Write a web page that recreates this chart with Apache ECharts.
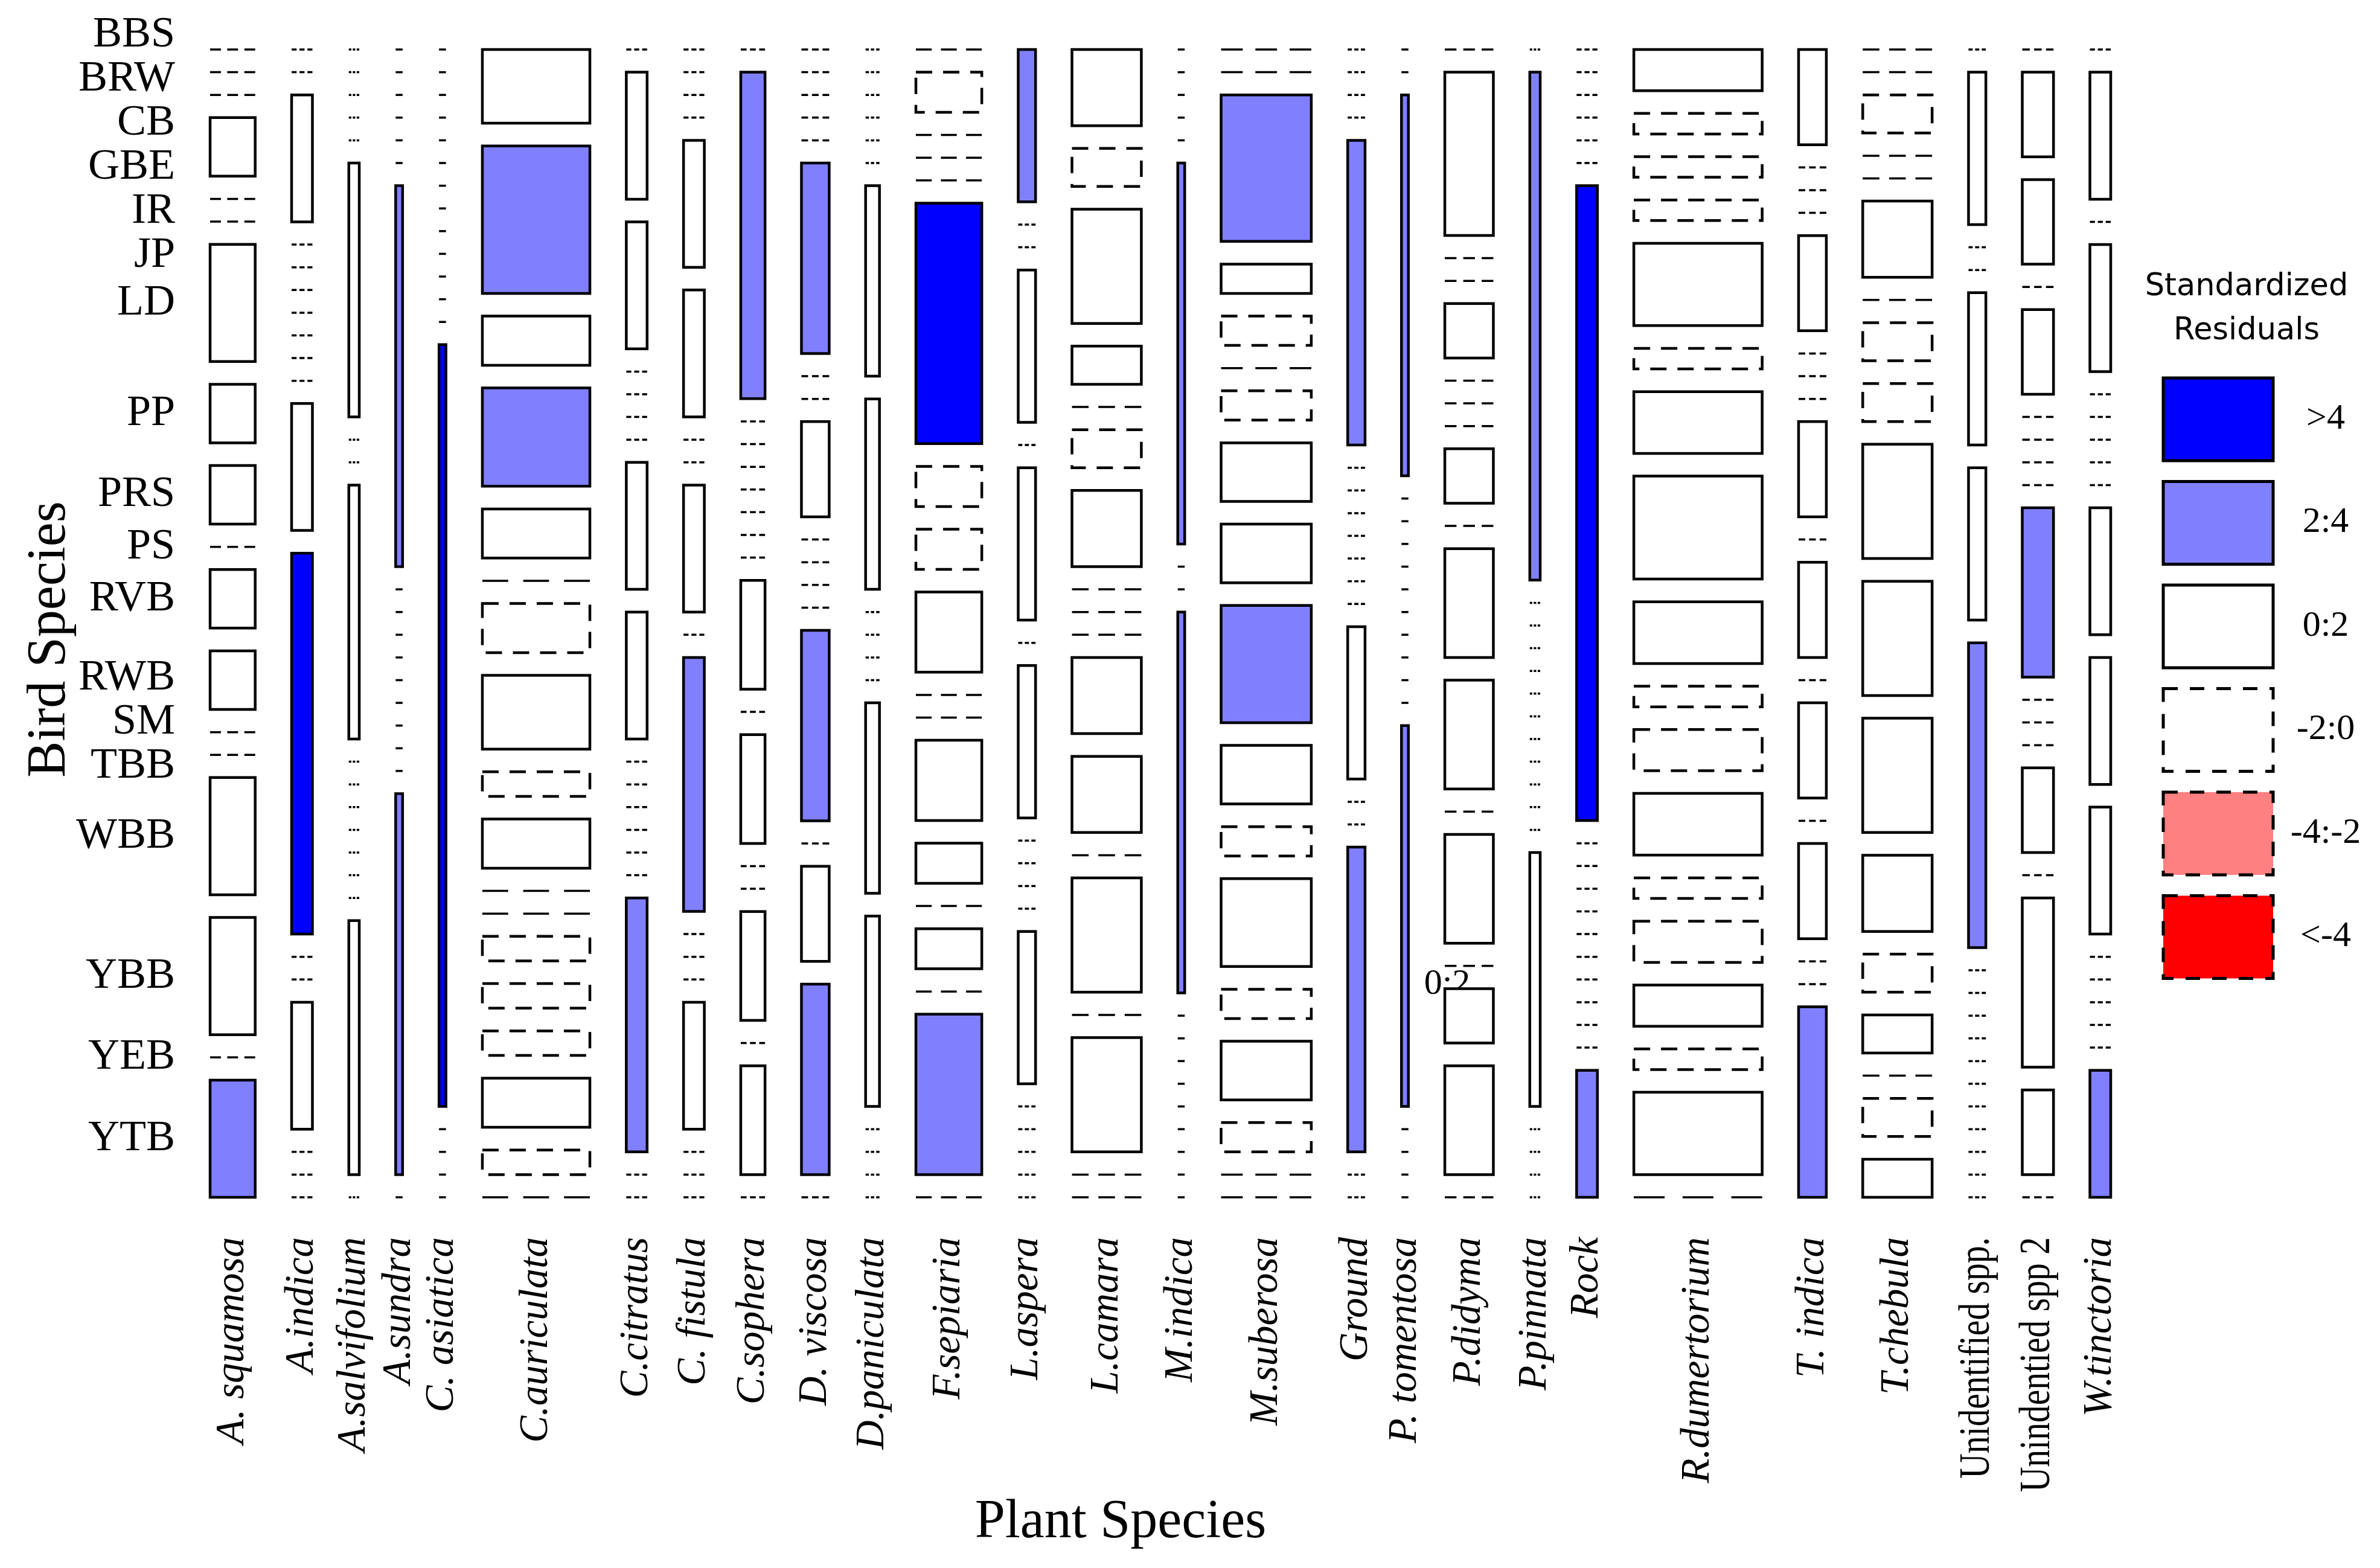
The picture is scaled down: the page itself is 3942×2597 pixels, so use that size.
<!DOCTYPE html>
<html><head><meta charset="utf-8">
<script src="https://cdn.jsdelivr.net/npm/echarts@6/dist/echarts.min.js"></script>
<style>html,body{margin:0;padding:0;background:#fff}#c{width:3942px;height:2597px}</style>
</head><body><div id="c"></div>
<script>
// ---- data ----
const birdSpecies = ['BBS','BRW','CB','GBE','IR','JP','LD','PP','PRS','PS','RVB','RWB','SM','TBB','WBB','YBB','YEB','YTB'];
const plantSpecies = ['A. squamosa','A.indica','A.salvifolium','A.sundra','C. asiatica','C.auriculata','C.citratus','C. fistula','C.sophera','D. viscosa','D.paniculata','F.sepiaria','L.aspera','L.camara','M.indica','M.suberosa','Ground','P. tomentosa','P.didyma','P.pinnata','Rock','R.dumertorium','T. indica','T.chebula','Unidentified spp.','Unindentied spp 2','W.tinctoria'];
const uprightPlants = ['Unidentified spp.','Unindentied spp 2'];
// counts per plant, in birdSpecies order
const aSquamosa    = [0,0,0,1,0,0,2,1,1,0,1,1,0,0,2,2,0,2];
const aIndica      = [0,0,1,0,0,0,0,0,0,0,1,3,0,0,1,0,0,0];
const aSalvifolium = [0,0,0,0,0,1,0,0,1,0,0,0,0,0,0,0,1,0];
const aSundra      = [0,0,0,0,0,0,1,0,0,0,0,0,0,0,0,0,1,0];
const cAsiatica    = [0,0,0,0,0,0,0,0,0,0,0,0,0,2,0,0,0,0];
const cAuriculata  = [3,6,2,4,2,0,2,3,1,2,0,0,1,1,1,2,1,0];
const cCitratus    = [0,1,1,0,0,0,0,1,1,0,0,0,0,0,0,2,0,0];
const cFistula     = [0,0,0,0,1,1,0,0,1,0,2,0,0,0,1,0,0,0];
const cSophera     = [0,3,0,0,0,0,0,0,0,1,0,1,0,0,1,0,1,0];
const dViscosa     = [0,0,0,0,0,2,0,0,1,0,0,0,0,2,0,1,2,0];
const dPaniculata  = [0,0,0,0,0,0,1,1,0,0,0,0,1,1,0,0,0,0];
const fSepiaria    = [0,1,0,0,0,6,1,1,2,0,0,2,1,0,1,0,4,0];
const lAspera      = [1,0,0,1,0,1,0,1,0,0,0,0,1,0,0,0,0,0];
const lCamara      = [2,1,3,1,0,1,2,0,0,0,2,2,0,3,0,3,0,0];
const mIndica      = [0,0,0,0,0,1,0,0,1,0,0,0,0,0,0,0,0,0];
const mSuberosa    = [0,0,5,1,1,0,1,2,2,4,2,1,3,1,2,1,0,0];
const ground       = [0,0,0,0,2,0,0,0,0,0,0,0,1,0,0,2,0,0];
const pTomentosa   = [0,0,1,0,0,0,0,0,0,0,0,0,0,1,0,0,0,0];
const pDidyma      = [0,3,0,0,1,0,0,0,1,0,2,2,0,2,0,1,2,0];
const pPinnata     = [0,2,0,0,0,0,0,0,0,0,0,0,0,1,0,0,0,0];
const rock         = [0,0,0,0,0,0,5,0,0,0,0,0,0,0,0,0,0,1];
const rDumertorium = [2,1,1,1,4,1,3,5,3,1,2,3,1,2,2,1,4,0];
const tIndica      = [1,0,0,0,1,0,0,0,1,0,1,0,1,0,1,0,0,2];
const tChebula     = [0,0,1,0,0,2,0,1,1,3,3,3,2,1,1,0,1,1];
const unidentSpp   = [0,1,0,0,1,1,2,0,0,0,0,0,0,0,0,0,0,0];
const unidentSpp2  = [0,1,1,0,1,0,0,0,0,2,0,0,0,1,0,2,1,0];
const wTinctoria   = [0,1,0,1,0,0,0,0,0,1,1,1,0,0,0,0,0,1];
const columns = [aSquamosa,aIndica,aSalvifolium,aSundra,cAsiatica,cAuriculata,cCitratus,cFistula,cSophera,dViscosa,dPaniculata,fSepiaria,lAspera,lCamara,mIndica,mSuberosa,ground,pTomentosa,pDidyma,pPinnata,rock,rDumertorium,tIndica,tChebula,unidentSpp,unidentSpp2,wTinctoria];
const legendLabels = ['>4','2:4','0:2','-2:0','-4:-2','<-4'];
const legendColors = ['#0000FF','#8080FF','#FFFFFF','#FFFFFF','#FF8080','#FF0000'];

// ---- mosaic layout (data units) ----
const gapX = 10.5, gapY = 0.0298;
const colTotals = columns.map(c => c.reduce((a,b)=>a+b,0));
const N = colTotals.reduce((a,b)=>a+b,0);
const rowTotals = birdSpecies.map((_,i)=>columns.reduce((a,c)=>a+c[i],0));
const cellData = [];
const colCenters = [];
let cx = 0;
columns.forEach((col,j)=>{
  const T = colTotals[j];
  const x0 = cx, x1 = cx + T;
  let y = 0;
  col.forEach((n,i)=>{
    const h = n / T;
    const e = rowTotals[i]*T/N;
    const r = (n - e)/Math.sqrt(e);
    cellData.push([x0, x1, y, y+h, n, r]);
    y += h + gapY;
  });
  colCenters.push((x0+x1)/2);
  cx = x1 + gapX;
});
const xMax = cx - gapX;
const yMax = 1 + (birdSpecies.length-1)*gapY;

function shade(r){
  if (r > 4) return {fill:'#0000FF', dashed:false};
  if (r > 2) return {fill:'#8080FF', dashed:false};
  if (r >= 0) return {fill:'#FFFFFF', dashed:false};
  if (r >= -2) return {fill:'#FFFFFF', dashed:true};
  if (r >= -4) return {fill:'#FF8080', dashed:true};
  return {fill:'#FF0000', dashed:true};
}

// row label positions: first column tile centres, spread to avoid overlap
const pxPerY = 1901 / yMax;
const firstCol = cellData.slice(0, birdSpecies.length).map(d => (d[2]+d[3])/2);
function spread(pos, minSep, lo){
  const p = pos.slice();
  for (let it=0; it<2000; it++){
    let moved = false;
    for (let i=1;i<p.length;i++){
      const ov = minSep - (p[i]-p[i-1]);
      if (ov > 1e-7){ p[i-1] -= ov/2; p[i] += ov/2; moved = true; }
    }
    if (p[0] < lo){ p[0] = lo; moved = true; }
    if (!moved) break;
  }
  return p;
}
const rowLabelY = spread(firstCol, 73/pxPerY, -24/pxPerY);

const chart = echarts.init(document.getElementById('c'), null, {renderer:'canvas'});
const serif = '"Liberation Serif", "Times New Roman", serif';

const legendElems = [];
legendElems.push({type:'text', x:3721, y:476, style:{text:'Standardized', fontFamily:'"DejaVu Sans", sans-serif', fontSize:51, fill:'#000', align:'center', verticalAlign:'middle'}});
legendElems.push({type:'text', x:3721, y:549, style:{text:'Residuals', fontFamily:'"DejaVu Sans", sans-serif', fontSize:51, fill:'#000', align:'center', verticalAlign:'middle'}});
legendLabels.forEach((lab,k)=>{
  const y = 626 + k*171.5;
  legendElems.push({type:'rect', shape:{x:3583, y:y, width:182, height:137},
    style:{fill:legendColors[k], stroke:'#000', lineWidth:5, lineDash: k>=3 ? [24,20] : null}});
  legendElems.push({type:'text', x:3852, y:y+68, style:{text:lab, fontFamily:serif, fontSize:60, fill:'#000', align:'center', verticalAlign:'middle'}});
});

const option = {
  animation:false,
  backgroundColor:'#fff',
  grid:{left:348, top:82, width:3148, height:1901},
  xAxis:{type:'value', min:0, max:xMax, show:false},
  yAxis:{type:'value', min:0, max:yMax, inverse:true, show:false},
  series:[
    {
      type:'custom', name:'cells', clip:false, silent:true,
      data: cellData,
      renderItem(params, api){
        const x0=api.value(0), x1=api.value(1), y0=api.value(2), y1=api.value(3), n=api.value(4), r=api.value(5);
        const p0 = api.coord([x0,y0]), p1 = api.coord([x1,y1]);
        const w = p1[0]-p0[0];
        if (n === 0){
          return {type:'line', shape:{x1:p0[0], y1:p0[1], x2:p1[0], y2:p0[1]},
            style:{stroke:'#000', lineWidth:3.5, lineDash: w < 14 ? null : [0.24*w, 0.14*w]}};
        }
        const s = shade(r);
        return {type:'rect', shape:{x:p0[0], y:p0[1], width:w, height:p1[1]-p0[1]},
          style:{fill:s.fill, stroke:'#000', lineWidth:4.5, lineDash: s.dashed ? [27,18] : null}};
      }
    },
    {
      type:'custom', name:'rowLabels', clip:false, silent:true,
      data: rowLabelY.map((y,i)=>[0,y,i]),
      renderItem(params, api){
        const p = api.coord([api.value(0), api.value(1)]);
        return {type:'text', x:p[0]-58, y:p[1],
          style:{text:birdSpecies[api.value(2)], fontFamily:serif, fontSize:72, fill:'#000', align:'right', verticalAlign:'middle'}};
      }
    },
    {
      type:'custom', name:'colLabels', clip:false, silent:true,
      data: colCenters.map((c,j)=>[c,yMax,j]),
      renderItem(params, api){
        const p = api.coord([api.value(0), api.value(1)]);
        const name = plantSpecies[api.value(2)];
        const upright = uprightPlants.includes(name);
        return {type:'text', x:p[0], y:p[1]+66, rotation:Math.PI/2, scaleX: upright ? 0.8 : 1,
          style:{text:name, fontFamily:serif, fontSize: upright ? 72 : 67, fontStyle: upright ? 'normal' : 'italic',
            fill:'#000', align:'right', verticalAlign:'middle'}};
      }
    }
  ],
  graphic:{elements:[
    {type:'text', x:83, y:1059, rotation:Math.PI/2, style:{text:'Bird Species', fontFamily:serif, fontSize:90, fill:'#000', align:'center', verticalAlign:'middle'}},
    {type:'text', x:1856, y:2522, style:{text:'Plant Species', fontFamily:serif, fontSize:90, fill:'#000', align:'center', verticalAlign:'middle'}},
    {type:'text', x:2397, y:1630, style:{text:'0:2', fontFamily:serif, fontSize:60, fill:'#000', align:'center', verticalAlign:'middle'}},
    ...legendElems
  ]}
};
chart.setOption(option);
</script>
</body></html>
